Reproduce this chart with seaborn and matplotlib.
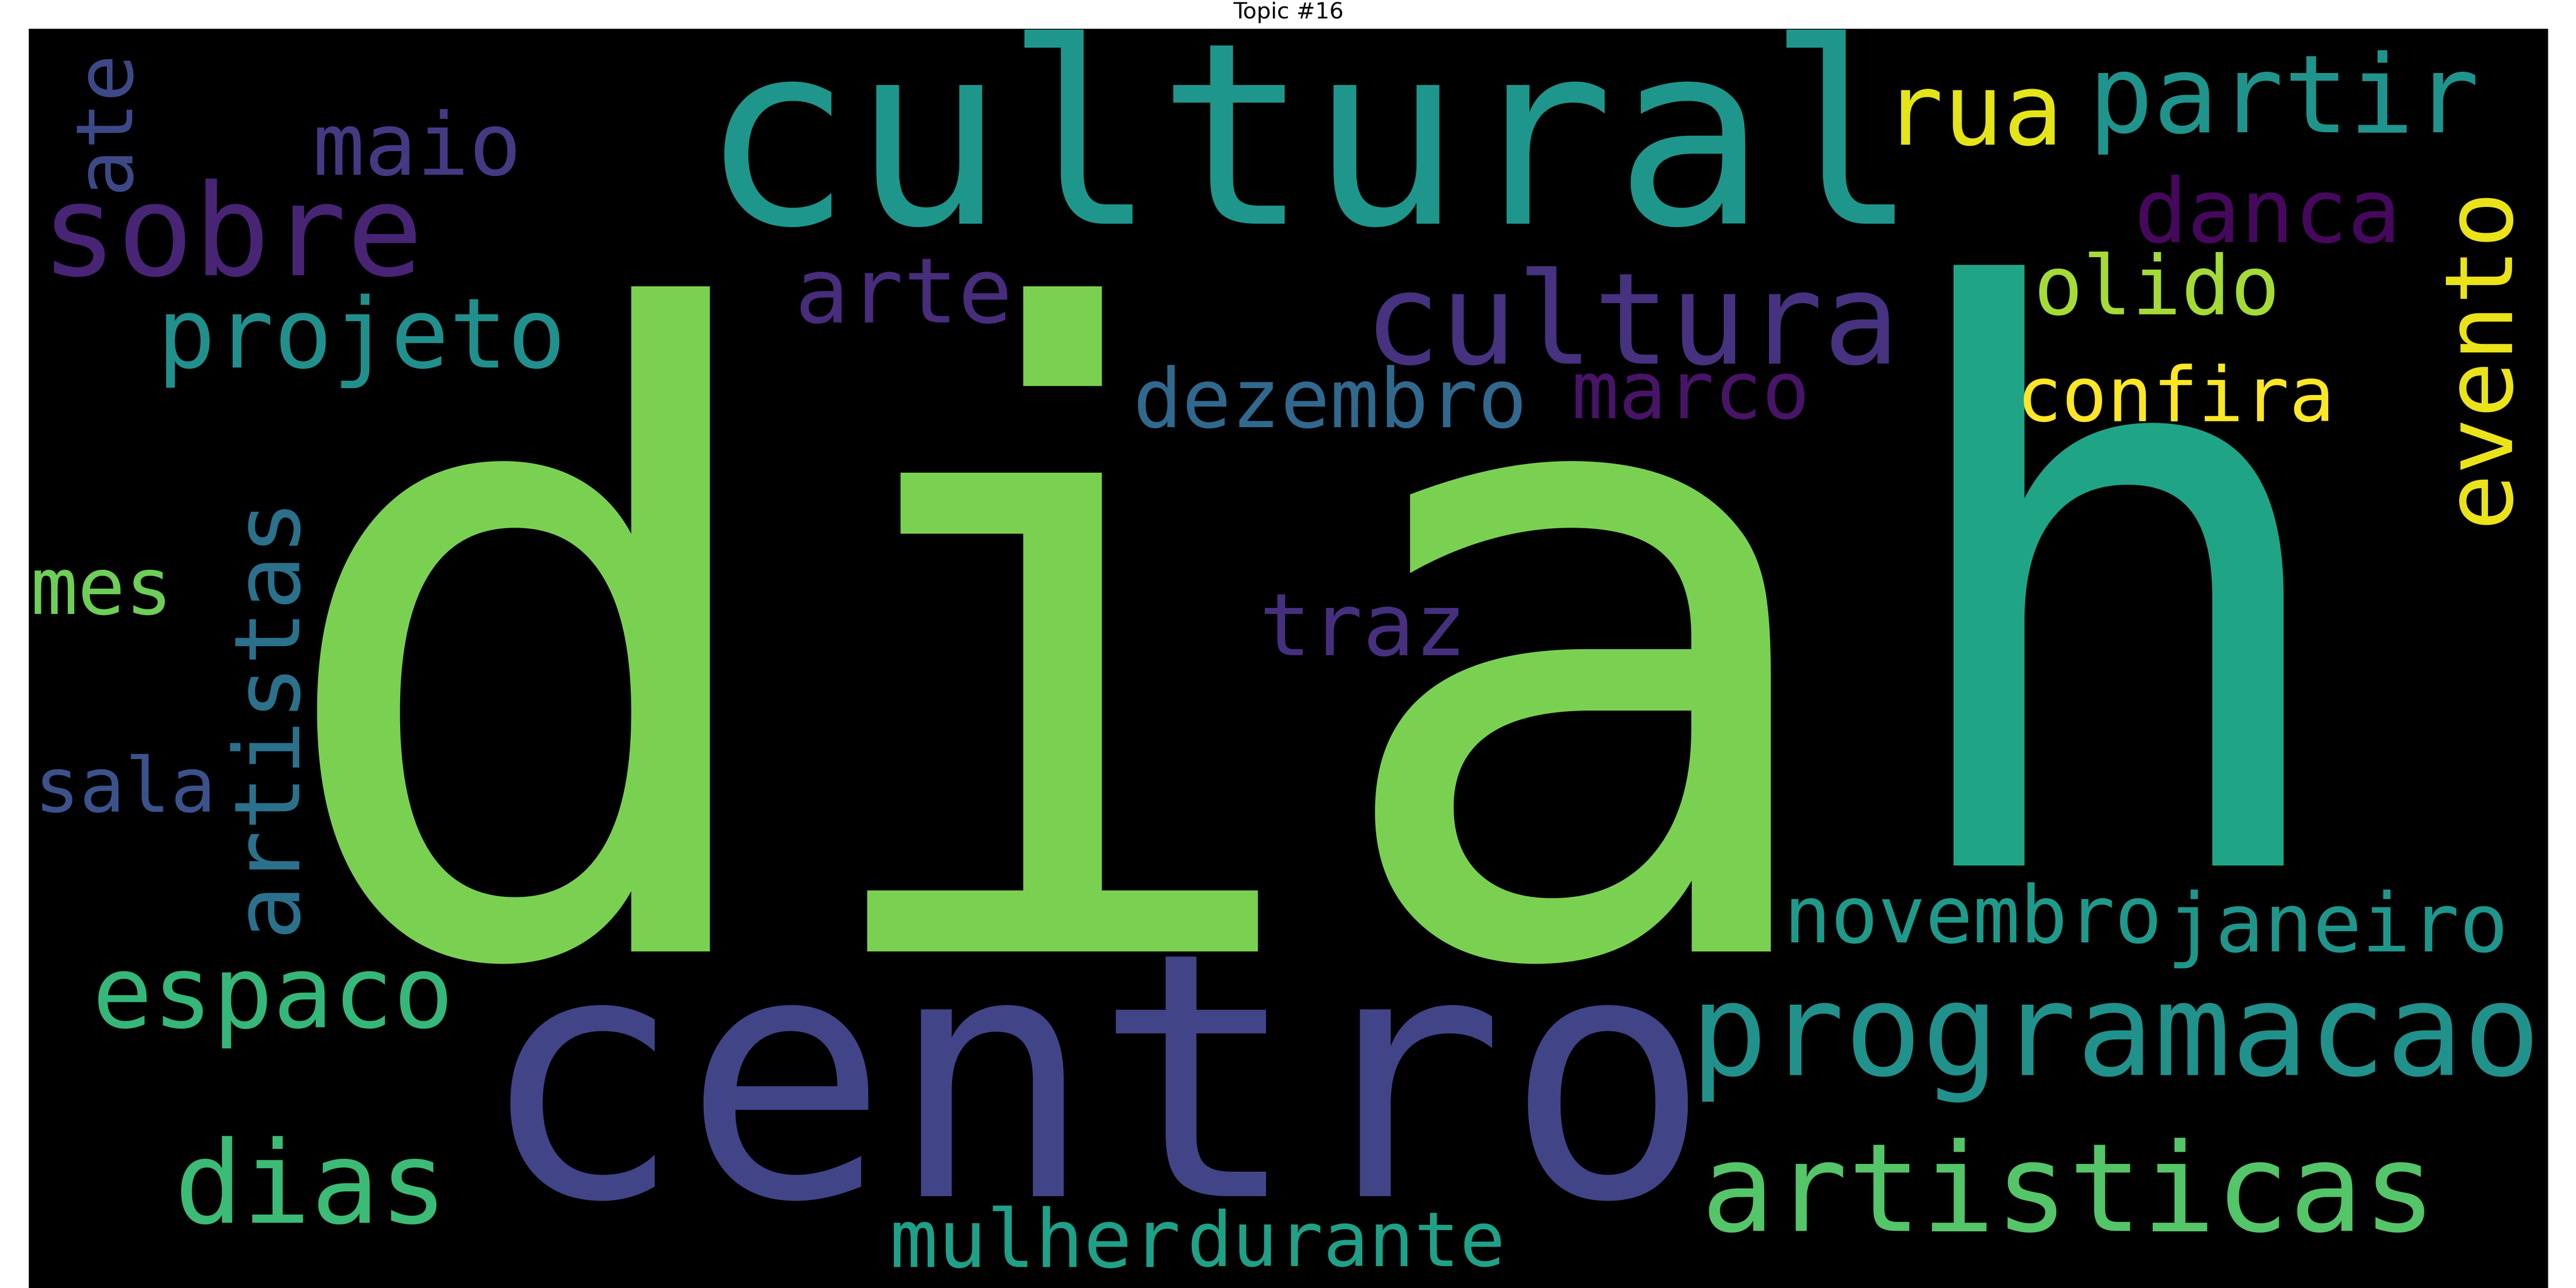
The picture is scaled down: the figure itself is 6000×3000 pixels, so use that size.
import matplotlib
matplotlib.use("Agg")
import matplotlib.pyplot as plt
import seaborn as sns
import pandas as pd

# ---- data: words of Topic #16 with their font size (canvas px) ----
words = ["dia", "h", "cultural", "centro", "programacao", "artisticas", "sobre",
         "cultura", "projeto", "partir", "rua", "danca", "olido", "confira", "arte",
         "maio", "dezembro", "marco", "traz", "mes", "sala", "espaco", "dias",
         "novembro", "janeiro", "mulher", "durante", "ate", "artistas", "evento"]
font_sizes = [695, 627, 201, 271, 102, 97, 101,
              101, 77, 86, 79, 70.5, 65, 60, 72,
              69, 65, 63, 68.5, 62.7, 60, 79.4, 90.3,
              62.4, 64.4, 64, 60, 62.7, 72.6, 74.6]
# ---- layout of the cloud on a 2000 x 1000 canvas (centre x, baseline y) ----
pos_x = [814.6, 1657.1, 1017.0, 845.9, 1656.4, 1619.3, 161.2,
         1272.7, 264.1, 1790.4, 1543.6, 1777.4, 1689.2, 1704.2, 694.6,
         308.1, 1033.0, 1319.0, 1059.0, 57.6, 76.7, 193.9, 223.9,
         1543.6, 1833.0, 798.9, 1045.7, 78.4, 210.3, 1967.3]
pos_y = [732.8, 664.6, 154.7, 927.1, 831.0, 954.7, 195.6,
         265.8, 268.9, 82.1, 92.0, 169.4, 226.7, 311.5, 233.1,
         115.9, 316.3, 309.1, 497.3, 464.6, 622.0, 793.1, 948.2,
         725.6, 732.4, 983.3, 982.3, 72.6, 544.0, 259.0]
rotation = [0] * 27 + [90, 90, 90]
colors = ["#7AD151", "#20A486", "#1F968B", "#414487", "#21918C", "#54C568", "#482475",
          "#46327E", "#21908D", "#1F948C", "#E5E419", "#46085C", "#A5DB36", "#FDE725",
          "#472D7B", "#443A83", "#31688E", "#481467", "#46307E", "#6ECE58", "#3B528B",
          "#35B779", "#3BBB75", "#1F9A8A", "#1F968B", "#1FA088", "#1FA187", "#3E4A89",
          "#2C728E", "#EDE51B"]

df = pd.DataFrame({"word": words, "size": font_sizes, "x": pos_x, "y": pos_y,
                   "rot": rotation, "color": colors})

sns.set_style("white")
plt.rcParams["font.family"] = ["DejaVu Sans"]

DPI = 100
fig = plt.figure(figsize=(60, 30), dpi=DPI)
ax = fig.add_axes([67 / 6000, 0, 5868 / 6000, 2933 / 3000])
ax.set_facecolor("black")
ax.set_xlim(0, 2000)
ax.set_ylim(1000, 0)
ax.set_xticks([])
ax.set_yticks([])
for s in ax.spines.values():
    s.set_visible(False)

fig.canvas.draw()
px_per_unit = abs(ax.transData.transform((1, 0))[0] - ax.transData.transform((0, 0))[0])

for _, r in df.iterrows():
    ax.text(r["x"], r["y"], r["word"], color=r["color"],
            fontsize=r["size"] * px_per_unit * 72 / DPI,
            family="DejaVu Sans Mono", ha="center", va="baseline",
            rotation=r["rot"], rotation_mode="anchor")

ax.set_title("Topic #16", fontsize=37.5, pad=17.3, color="black")

fig.savefig("out.png", dpi=DPI, facecolor="white")
